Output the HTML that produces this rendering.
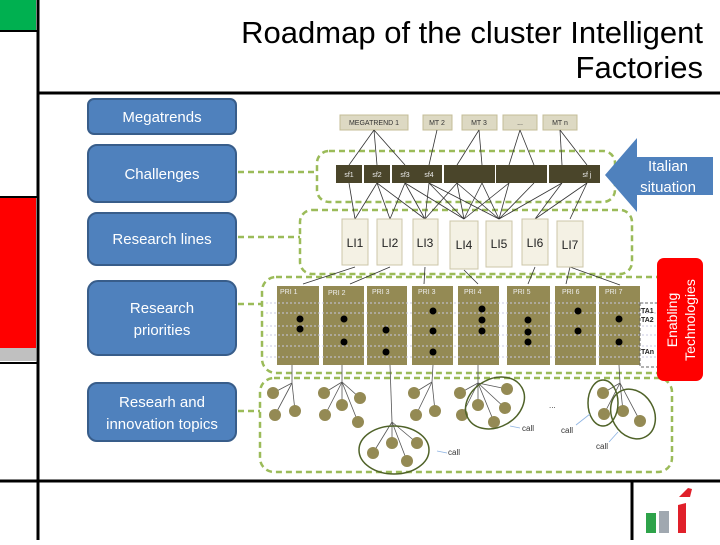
<!DOCTYPE html>
<html><head><style>
body{margin:0;width:720px;height:540px;overflow:hidden;background:#fff;font-family:"Liberation Sans",sans-serif;}
</style></head><body>
<svg width="720" height="540" xmlns="http://www.w3.org/2000/svg" font-family="Liberation Sans, sans-serif">
<rect x="0" y="0" width="36" height="30" fill="#00b050"/>
<rect x="0" y="197" width="36" height="151" fill="#ff0000"/>
<rect x="0" y="348" width="36" height="13" fill="#c0c0c0"/>
<line x1="0" x2="37" y1="31" y2="31" stroke="#000" stroke-width="2"/>
<line x1="0" x2="37" y1="197" y2="197" stroke="#000" stroke-width="2"/>
<line x1="0" x2="37" y1="363" y2="363" stroke="#000" stroke-width="2"/>
<line x1="38" x2="38" y1="0" y2="540" stroke="#000" stroke-width="3"/>
<line x1="38" x2="720" y1="93" y2="93" stroke="#000" stroke-width="3"/>
<line x1="0" x2="720" y1="481" y2="481" stroke="#000" stroke-width="3"/>
<line x1="632" x2="632" y1="481" y2="540" stroke="#000" stroke-width="3"/>
<text x="703" y="43" text-anchor="end" font-size="31">Roadmap of the cluster Intelligent</text>
<text x="703" y="78" text-anchor="end" font-size="31">Factories</text>

<g fill="#4f81bd" stroke="#385d8a" stroke-width="2">
<rect x="88" y="99" width="148" height="35" rx="6"/>
<rect x="88" y="145" width="148" height="57" rx="9"/>
<rect x="88" y="213" width="148" height="52" rx="9"/>
<rect x="88" y="281" width="148" height="74" rx="10"/>
<rect x="88" y="383" width="148" height="58" rx="9"/>
</g>
<g fill="#fff" font-size="15" text-anchor="middle">
<text x="162" y="122">Megatrends</text>
<text x="162" y="179">Challenges</text>
<text x="162" y="244">Research lines</text>
<text x="162" y="313">Research</text>
<text x="162" y="335">priorities</text>
<text x="162" y="407">Researh and</text>
<text x="162" y="429">innovation topics</text>
</g>

<g fill="none" stroke="#9bbb59" stroke-width="2.5" stroke-dasharray="6,4">
<rect x="317" y="151" width="298" height="51" rx="12"/>
<rect x="300" y="210" width="332" height="64" rx="12"/>
<rect x="262" y="277" width="420" height="96" rx="14"/>
<rect x="260" y="378" width="412" height="94" rx="14"/>
<line x1="238" x2="317" y1="172" y2="172"/>
<line x1="238" x2="300" y1="237" y2="237"/>
<line x1="238" x2="262" y1="304" y2="304"/>
<line x1="238" x2="260" y1="411" y2="411"/>
</g>

<g fill="#ddd9c3" stroke="#c4bd97">
<rect x="340" y="115" width="68" height="15"/>
<rect x="423" y="115" width="29" height="15"/>
<rect x="462" y="115" width="35" height="15"/>
<rect x="503" y="115" width="34" height="15"/>
<rect x="543" y="115" width="34" height="15"/>
</g>
<g font-size="7" text-anchor="middle" fill="#333">
<text x="374" y="125">MEGATREND 1</text><text x="437" y="125">MT 2</text><text x="479" y="125">MT 3</text><text x="520" y="125">...</text><text x="560" y="125">MT n</text>
</g>
<g stroke="#333" stroke-width="0.8">
<line x1="374" y1="130" x2="349" y2="165"/><line x1="374" y1="130" x2="377" y2="165"/><line x1="374" y1="130" x2="405" y2="165"/>
<line x1="437" y1="130" x2="429" y2="165"/>
<line x1="479" y1="130" x2="457" y2="165"/><line x1="479" y1="130" x2="482" y2="165"/>
<line x1="520" y1="130" x2="509" y2="165"/><line x1="520" y1="130" x2="534" y2="165"/>
<line x1="560" y1="130" x2="562" y2="165"/><line x1="560" y1="130" x2="587" y2="165"/>
<line x1="349" y1="183" x2="355" y2="219"/><line x1="377" y1="183" x2="355" y2="219"/><line x1="377" y1="183" x2="390" y2="219"/><line x1="377" y1="183" x2="425" y2="219"/>
<line x1="405" y1="183" x2="390" y2="219"/><line x1="405" y1="183" x2="425" y2="219"/><line x1="405" y1="183" x2="464" y2="219"/>
<line x1="429" y1="183" x2="425" y2="219"/><line x1="429" y1="183" x2="464" y2="219"/><line x1="429" y1="183" x2="499" y2="219"/>
<line x1="457" y1="183" x2="425" y2="219"/><line x1="457" y1="183" x2="464" y2="219"/><line x1="457" y1="183" x2="499" y2="219"/>
<line x1="482" y1="183" x2="464" y2="219"/><line x1="482" y1="183" x2="499" y2="219"/>
<line x1="509" y1="183" x2="464" y2="219"/><line x1="509" y1="183" x2="499" y2="219"/>
<line x1="534" y1="183" x2="499" y2="219"/>
<line x1="562" y1="183" x2="499" y2="219"/><line x1="562" y1="183" x2="535" y2="219"/>
<line x1="587" y1="183" x2="535" y2="219"/><line x1="587" y1="183" x2="570" y2="219"/>
<line x1="355" y1="267" x2="303" y2="284"/><line x1="390" y1="267" x2="350" y2="284"/><line x1="425" y1="267" x2="424" y2="284"/>
<line x1="464" y1="270" x2="478" y2="284"/><line x1="535" y1="267" x2="528" y2="284"/><line x1="570" y1="267" x2="566" y2="284"/><line x1="570" y1="267" x2="620" y2="285"/>
</g>
<g fill="#4a452a">
<rect x="336" y="165" width="26" height="18"/><rect x="364" y="165" width="26" height="18"/><rect x="392" y="165" width="26" height="18"/><rect x="416" y="165" width="26" height="18"/>
<rect x="444" y="165" width="26" height="18"/><rect x="469" y="165" width="26" height="18"/><rect x="496" y="165" width="26" height="18"/><rect x="521" y="165" width="26" height="18"/><rect x="549" y="165" width="26" height="18"/><rect x="574" y="165" width="26" height="18"/>
</g>
<g fill="#eee" font-size="7" text-anchor="middle">
<text x="349" y="177">sf1</text><text x="377" y="177">sf2</text><text x="405" y="177">sf3</text><text x="429" y="177">sf4</text><text x="587" y="177">sf j</text>
</g>
<g fill="#f4f1e4" stroke="#ccc6a8">
<rect x="342" y="219" width="26" height="46"/><rect x="377" y="219" width="25" height="46"/><rect x="413" y="219" width="25" height="46"/><rect x="450" y="221" width="28" height="48"/><rect x="486" y="221" width="26" height="46"/><rect x="522" y="219" width="26" height="46"/><rect x="557" y="221" width="26" height="46"/>
</g>
<g font-size="12" text-anchor="middle" fill="#222">
<text x="355" y="247">LI1</text><text x="390" y="247">LI2</text><text x="425" y="247">LI3</text><text x="464" y="249">LI4</text><text x="499" y="248">LI5</text><text x="535" y="247">LI6</text><text x="570" y="249">LI7</text>
</g>
<polygon points="605,175 637,138 637,157 713,157 713,195 637,195 637,212" fill="#4f81bd"/>
<text x="668" y="171" text-anchor="middle" fill="#fff" font-size="15">Italian</text>
<text x="668" y="192" text-anchor="middle" fill="#fff" font-size="15">situation</text>

<g fill="#948a54">
<rect x="277" y="286" width="42" height="79"/><rect x="323" y="286" width="41" height="79"/><rect x="367" y="286" width="40" height="79"/><rect x="412" y="286" width="41" height="79"/><rect x="458" y="286" width="41" height="79"/><rect x="507" y="286" width="43" height="79"/><rect x="555" y="286" width="41" height="79"/><rect x="599" y="286" width="41" height="79"/>
</g>
<g font-size="7" fill="#eee">
<text x="280" y="294">PRI 1</text><text x="328" y="295">PRI 2</text><text x="372" y="294">PRI 3</text><text x="418" y="294">PRI 3</text><text x="464" y="294">PRI 4</text><text x="513" y="294">PRI 5</text><text x="562" y="294">PRI 6</text><text x="605" y="294">PRI 7</text>
</g>
<g stroke="#c8c8e0" stroke-dasharray="2,2" stroke-width="1">
<line x1="266" x2="660" y1="303" y2="303"/><line x1="266" x2="660" y1="313" y2="313"/><line x1="266" x2="660" y1="326" y2="326"/><line x1="266" x2="660" y1="335" y2="335"/><line x1="266" x2="660" y1="346" y2="346"/><line x1="266" x2="660" y1="357" y2="357"/>
</g>
<rect x="640" y="303" width="20" height="64" fill="none" stroke="#666" stroke-dasharray="3,2"/>
<g font-size="7" fill="#222" font-weight="bold"><text x="641" y="313">TA1</text><text x="641" y="322">TA2</text><text x="641" y="354">TAn</text></g>
<g fill="#000">
<circle cx="300" cy="319" r="3.5"/><circle cx="300" cy="329" r="3.5"/>
<circle cx="344" cy="319" r="3.5"/><circle cx="344" cy="342" r="3.5"/>
<circle cx="386" cy="330" r="3.5"/><circle cx="386" cy="352" r="3.5"/>
<circle cx="433" cy="311" r="3.5"/><circle cx="433" cy="331" r="3.5"/><circle cx="433" cy="352" r="3.5"/>
<circle cx="482" cy="309" r="3.5"/><circle cx="482" cy="320" r="3.5"/><circle cx="482" cy="331" r="3.5"/>
<circle cx="528" cy="320" r="3.5"/><circle cx="528" cy="332" r="3.5"/><circle cx="528" cy="342" r="3.5"/>
<circle cx="578" cy="311" r="3.5"/><circle cx="578" cy="331" r="3.5"/>
<circle cx="619" cy="319" r="3.5"/><circle cx="619" cy="342" r="3.5"/>
</g>
<rect x="657" y="258" width="46" height="123" rx="7" fill="#ff0000"/>
<text transform="translate(677,320) rotate(-90)" text-anchor="middle" fill="#fff" font-size="14">Enabling</text>
<text transform="translate(695,320) rotate(-90)" text-anchor="middle" fill="#fff" font-size="14">Technologies</text>

<g stroke="#555" stroke-width="0.8" fill="none">
<line x1="292" y1="365" x2="292" y2="383"/><line x1="292" y1="383" x2="273" y2="393"/><line x1="292" y1="383" x2="275" y2="415"/><line x1="292" y1="383" x2="295" y2="411"/>
<line x1="342" y1="365" x2="342" y2="382"/><line x1="342" y1="382" x2="324" y2="393"/><line x1="342" y1="382" x2="342" y2="405"/><line x1="342" y1="382" x2="360" y2="398"/><line x1="342" y1="382" x2="325" y2="415"/><line x1="342" y1="382" x2="358" y2="422"/>
<line x1="390" y1="365" x2="392" y2="422"/><line x1="392" y1="422" x2="373" y2="453"/><line x1="392" y1="422" x2="392" y2="443"/><line x1="392" y1="422" x2="417" y2="443"/><line x1="392" y1="422" x2="407" y2="461"/>
<line x1="433" y1="365" x2="432" y2="382"/><line x1="432" y1="382" x2="414" y2="393"/><line x1="432" y1="382" x2="416" y2="415"/><line x1="432" y1="382" x2="435" y2="411"/>
<line x1="478" y1="365" x2="478" y2="383"/><line x1="478" y1="383" x2="460" y2="393"/><line x1="478" y1="383" x2="462" y2="415"/><line x1="478" y1="383" x2="478" y2="405"/><line x1="478" y1="383" x2="507" y2="389"/><line x1="478" y1="383" x2="505" y2="408"/><line x1="478" y1="383" x2="494" y2="422"/>
<line x1="619" y1="365" x2="620" y2="383"/><line x1="620" y1="383" x2="603" y2="393"/><line x1="620" y1="383" x2="604" y2="414"/><line x1="620" y1="383" x2="623" y2="411"/><line x1="620" y1="383" x2="640" y2="421"/>
</g>
<g fill="#948a54">
<circle cx="273" cy="393" r="6"/><circle cx="275" cy="415" r="6"/><circle cx="295" cy="411" r="6"/>
<circle cx="324" cy="393" r="6"/><circle cx="342" cy="405" r="6"/><circle cx="360" cy="398" r="6"/><circle cx="325" cy="415" r="6"/><circle cx="358" cy="422" r="6"/>
<circle cx="373" cy="453" r="6"/><circle cx="392" cy="443" r="6"/><circle cx="417" cy="443" r="6"/><circle cx="407" cy="461" r="6"/>
<circle cx="414" cy="393" r="6"/><circle cx="416" cy="415" r="6"/><circle cx="435" cy="411" r="6"/>
<circle cx="460" cy="393" r="6"/><circle cx="462" cy="415" r="6"/><circle cx="478" cy="405" r="6"/><circle cx="507" cy="389" r="6"/><circle cx="505" cy="408" r="6"/><circle cx="494" cy="422" r="6"/>
<circle cx="603" cy="393" r="6"/><circle cx="604" cy="414" r="6"/><circle cx="623" cy="411" r="6"/><circle cx="640" cy="421" r="6"/>
</g>
<g fill="none" stroke="#4f6228" stroke-width="1.5">
<ellipse cx="394" cy="450" rx="35" ry="24"/>
<ellipse cx="495" cy="403" rx="31" ry="24" transform="rotate(-30 495 403)"/>
<ellipse cx="603" cy="403" rx="15" ry="23"/>
<ellipse cx="633" cy="414" rx="21" ry="26" transform="rotate(-30 633 414)"/>
</g>
<g stroke="#8db3e2" stroke-width="0.8">
<line x1="510" y1="426" x2="520" y2="428"/><line x1="437" y1="451" x2="447" y2="453"/><line x1="576" y1="425" x2="590" y2="414"/><line x1="609" y1="442" x2="618" y2="432"/>
</g>
<g font-size="8" fill="#333">
<text x="522" y="431">call</text><text x="448" y="455">call</text><text x="561" y="433">call</text><text x="596" y="449">call</text><text x="549" y="408">...</text>
</g>

<rect x="646" y="513" width="10" height="20" fill="#2ea34a"/>
<rect x="659" y="511" width="10" height="22" fill="#a0a8b0"/>
<polygon points="678,505 686,503 686,533 678,533" fill="#e0202a"/>
<path d="M679,497 L688,488 L692,489 L690,497 Z" fill="#e0202a"/>
</svg>
</body></html>
